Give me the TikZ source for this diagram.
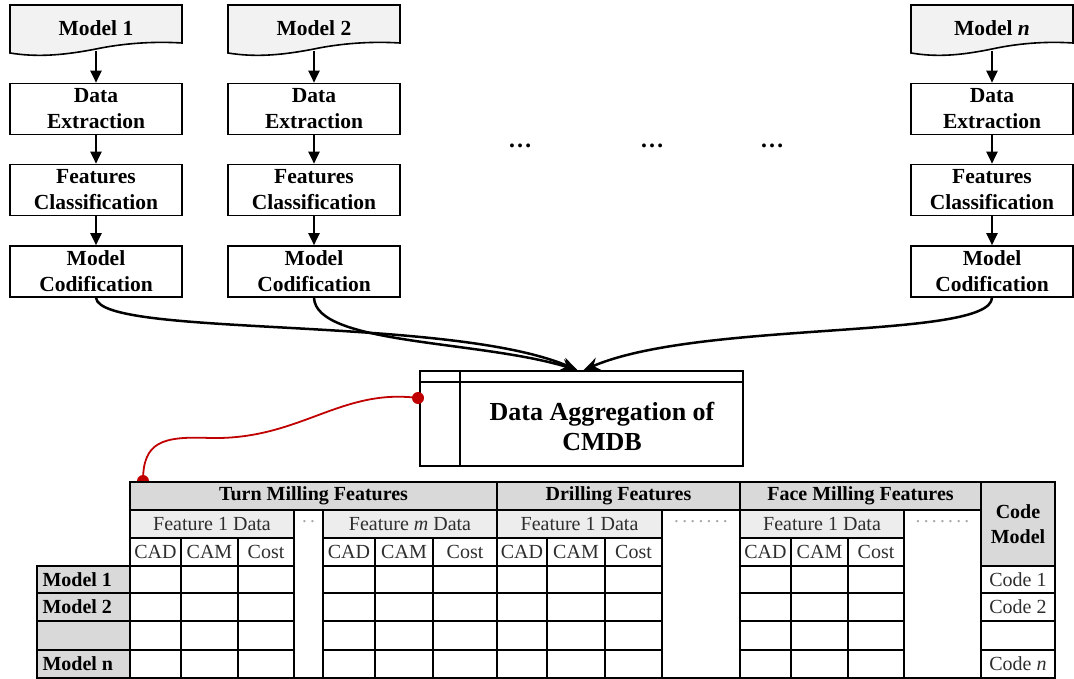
\documentclass[tikz,border=0pt]{standalone}
\usepackage{fontspec}
\setmainfont{Liberation Serif}
\usetikzlibrary{arrows.meta}

\definecolor{docgray}{HTML}{F2F2F2}
\definecolor{hdrgray}{HTML}{D9D9D9}
\definecolor{subgray}{HTML}{EDEDED}
\definecolor{linkred}{HTML}{C00000}
\definecolor{celltext}{HTML}{2E2E2E}

\tikzset{
	flowbox/.style={draw, line width=1.6pt, minimum width=172pt, minimum height=51pt, inner sep=2pt, align=center, font=\fontsize{21.5}{26}\selectfont\bfseries},
	doclabel/.style={minimum width=172pt, minimum height=46pt, inner sep=0pt, font=\fontsize{21.5}{26}\selectfont\bfseries},
	docshape/.style={draw, line width=1.6pt, fill=docgray},
	flowarrow/.style={line width=2.2pt, -{Triangle[length=12pt,width=11pt]}},
	mergearrow/.style={line width=2.5pt, -{Stealth[length=16pt,width=13pt]}},
	reddot/.style={circle, fill=linkred, minimum size=12pt, inner sep=0pt},
	tcell/.style={draw, line width=2.6pt},
	hdrtext/.style={font=\fontsize{20}{22}\selectfont\bfseries},
	celltxt/.style={text=celltext, font=\fontsize{20}{22}\selectfont},
	dotstxt/.style={text=gray!70, font=\fontsize{19.5}{22}\selectfont}
}

\begin{document}
\begin{tikzpicture}[x=1pt, y=-1pt]
	\useasboundingbox (0,0) rectangle (1074,679);

	\draw[docshape] (10,5) -- (182,5) -- (182,43) .. controls (150,41) and (120,44) .. (96,49) .. controls (60,56) and (35,57) .. (10,53) -- cycle;
	\draw[docshape] (228,5) -- (400,5) -- (400,43) .. controls (368,41) and (338,44) .. (314,49) .. controls (278,56) and (253,57) .. (228,53) -- cycle;
	\draw[docshape] (911,5) -- (1073,5) -- (1073,43) .. controls (1043,41) and (1015,44) .. (992,49) .. controls (958,56) and (935,57) .. (911,53) -- cycle;

	\draw (96,28) node[doclabel] (m1) {Model 1};
	\draw (314,28) node[doclabel] (m2) {Model 2};
	\draw (992,28) node[doclabel, minimum width=162pt] (m3) {Model \textit{n}};

	\draw (96,109) node[flowbox] (de1) {Data\\Extraction};
	\draw (96,190) node[flowbox] (fc1) {Features\\Classification};
	\draw (96,271.5) node[flowbox] (mc1) {Model\\Codification};

	\draw (314,109) node[flowbox] (de2) {Data\\Extraction};
	\draw (314,190) node[flowbox] (fc2) {Features\\Classification};
	\draw (314,271.5) node[flowbox] (mc2) {Model\\Codification};

	\draw (992,109) node[flowbox, minimum width=162pt] (de3) {Data\\Extraction};
	\draw (992,190) node[flowbox, minimum width=162pt] (fc3) {Features\\Classification};
	\draw (992,271.5) node[flowbox, minimum width=162pt] (mc3) {Model\\Codification};

	\draw[flowarrow] (m1.south) -- (de1);
	\draw[flowarrow] (de1) -- (fc1);
	\draw[flowarrow] (fc1) -- (mc1);
	\draw[flowarrow] (m2.south) -- (de2);
	\draw[flowarrow] (de2) -- (fc2);
	\draw[flowarrow] (fc2) -- (mc2);
	\draw[flowarrow] (m3.south) -- (de3);
	\draw[flowarrow] (de3) -- (fc3);
	\draw[flowarrow] (fc3) -- (mc3);

	\draw (520,146) node[font=\fontsize{24}{26}\selectfont\bfseries] (dots1) {\dots};
	\draw (652,146) node[font=\fontsize{24}{26}\selectfont\bfseries] (dots2) {\dots};
	\draw (772,146) node[font=\fontsize{24}{26}\selectfont\bfseries] (dots3) {\dots};

	\draw (581.5,418.5) node[draw, line width=1.6pt, minimum width=323pt, minimum height=95pt] (agg) {};
	\draw[line width=1.6pt] ([yshift=-12pt]agg.north west) -- ([yshift=-12pt]agg.north east);
	\draw[line width=1.6pt] ([xshift=41pt]agg.north west) -- ([xshift=41pt]agg.south west);
	\draw (602,426) node[align=center, font=\fontsize{26}{30}\selectfont\bfseries] (aggt) {Data Aggregation of\\CMDB};

	\draw[mergearrow] (mc1.south) .. controls (100,338) and (450,315) .. ([xshift=-4pt]agg.north);
	\draw[mergearrow] (mc2.south) .. controls (316,345) and (480,340) .. ([xshift=-4pt]agg.north);
	\draw[mergearrow] (mc3.south) .. controls (990,340) and (700,320) .. ([xshift=2pt]agg.north);

	\draw (418,398) node[reddot] (rd1) {};
	\draw (143,481) node[reddot] (rd2) {};
	\draw[linkred, line width=1.8pt] (rd1.center) .. controls (340,388) and (300,440) .. (210,438) .. controls (162,436) and (143,442) .. (rd2.center);

	\draw[tcell, fill=hdrgray] (130,482) rectangle (497,510);
	\draw[tcell, fill=hdrgray] (497,482) rectangle (740,510);
	\draw[tcell, fill=hdrgray] (740,482) rectangle (981,510);
	\draw[tcell, fill=hdrgray] (981,482) rectangle (1055,566);
	\draw (313.5,496) node[hdrtext] (turn) {Turn Milling Features};
	\draw (618.5,496) node[hdrtext] (drill) {Drilling Features};
	\draw (860.5,496) node[hdrtext] (face) {Face Milling Features};
	\draw (1018,524) node[hdrtext, align=center, font=\fontsize{20}{25}\selectfont\bfseries] (code) {Code\\Model};

	\draw[tcell, fill=subgray] (130,510) rectangle (294,538);
	\draw[tcell, fill=subgray] (323,510) rectangle (497,538);
	\draw[tcell, fill=subgray] (497,510) rectangle (662,538);
	\draw[tcell, fill=subgray] (740,510) rectangle (904,538);
	\draw (212,524) node[celltxt] (f1t) {Feature 1 Data};
	\draw (410,524) node[celltxt] (fmt) {Feature \textit{m} Data};
	\draw (579.5,524) node[celltxt] (f1d) {Feature 1 Data};
	\draw (822,524) node[celltxt] (f1f) {Feature 1 Data};

	\draw[tcell] (294,510) rectangle (323,678);
	\draw[tcell] (662,510) rectangle (740,678);
	\draw[tcell] (904,510) rectangle (981,678);
	\draw (308.5,522) node[dotstxt] (gap1) {.\,.};
	\draw (701,522) node[dotstxt] (gap2) {.\,.\,.\,.\,.\,.\,.};
	\draw (942.5,522) node[dotstxt] (gap3) {.\,.\,.\,.\,.\,.\,.};

	\foreach \xa/\xb/\lbl in {130/181/CAD, 181/238/CAM, 238/294/Cost, 323/375/CAD, 375/433/CAM, 433/497/Cost, 497/547/CAD, 547/605/CAM, 605/662/Cost, 740/791/CAD, 791/848/CAM, 848/904/Cost}
	{
		\draw[tcell] (\xa,538) rectangle (\xb,566);
		\draw ({(\xa+\xb)/2},552) node[celltxt] (sub-\xa) {\lbl};
		\foreach \ya/\yb in {566/593, 593/621, 621/650, 650/678}
			\draw[tcell] (\xa,\ya) rectangle (\xb,\yb);
	}

	\foreach \ya/\yb/\lbl/\cde in {566/593/Model 1/Code 1, 593/621/Model 2/Code 2, 621/650//, 650/678/Model n/Code \textit{n}}
	{
		\draw[tcell, fill=hdrgray] (37,\ya) rectangle (130,\yb);
		\draw[tcell] (981,\ya) rectangle (1055,\yb);
		\draw (39,{(\ya+\yb)/2}) node[hdrtext, anchor=west] (row-\ya) {\lbl};
		\draw (1018,{(\ya+\yb)/2}) node[celltxt] (cde-\ya) {\cde};
	}
\end{tikzpicture}
\end{document}
